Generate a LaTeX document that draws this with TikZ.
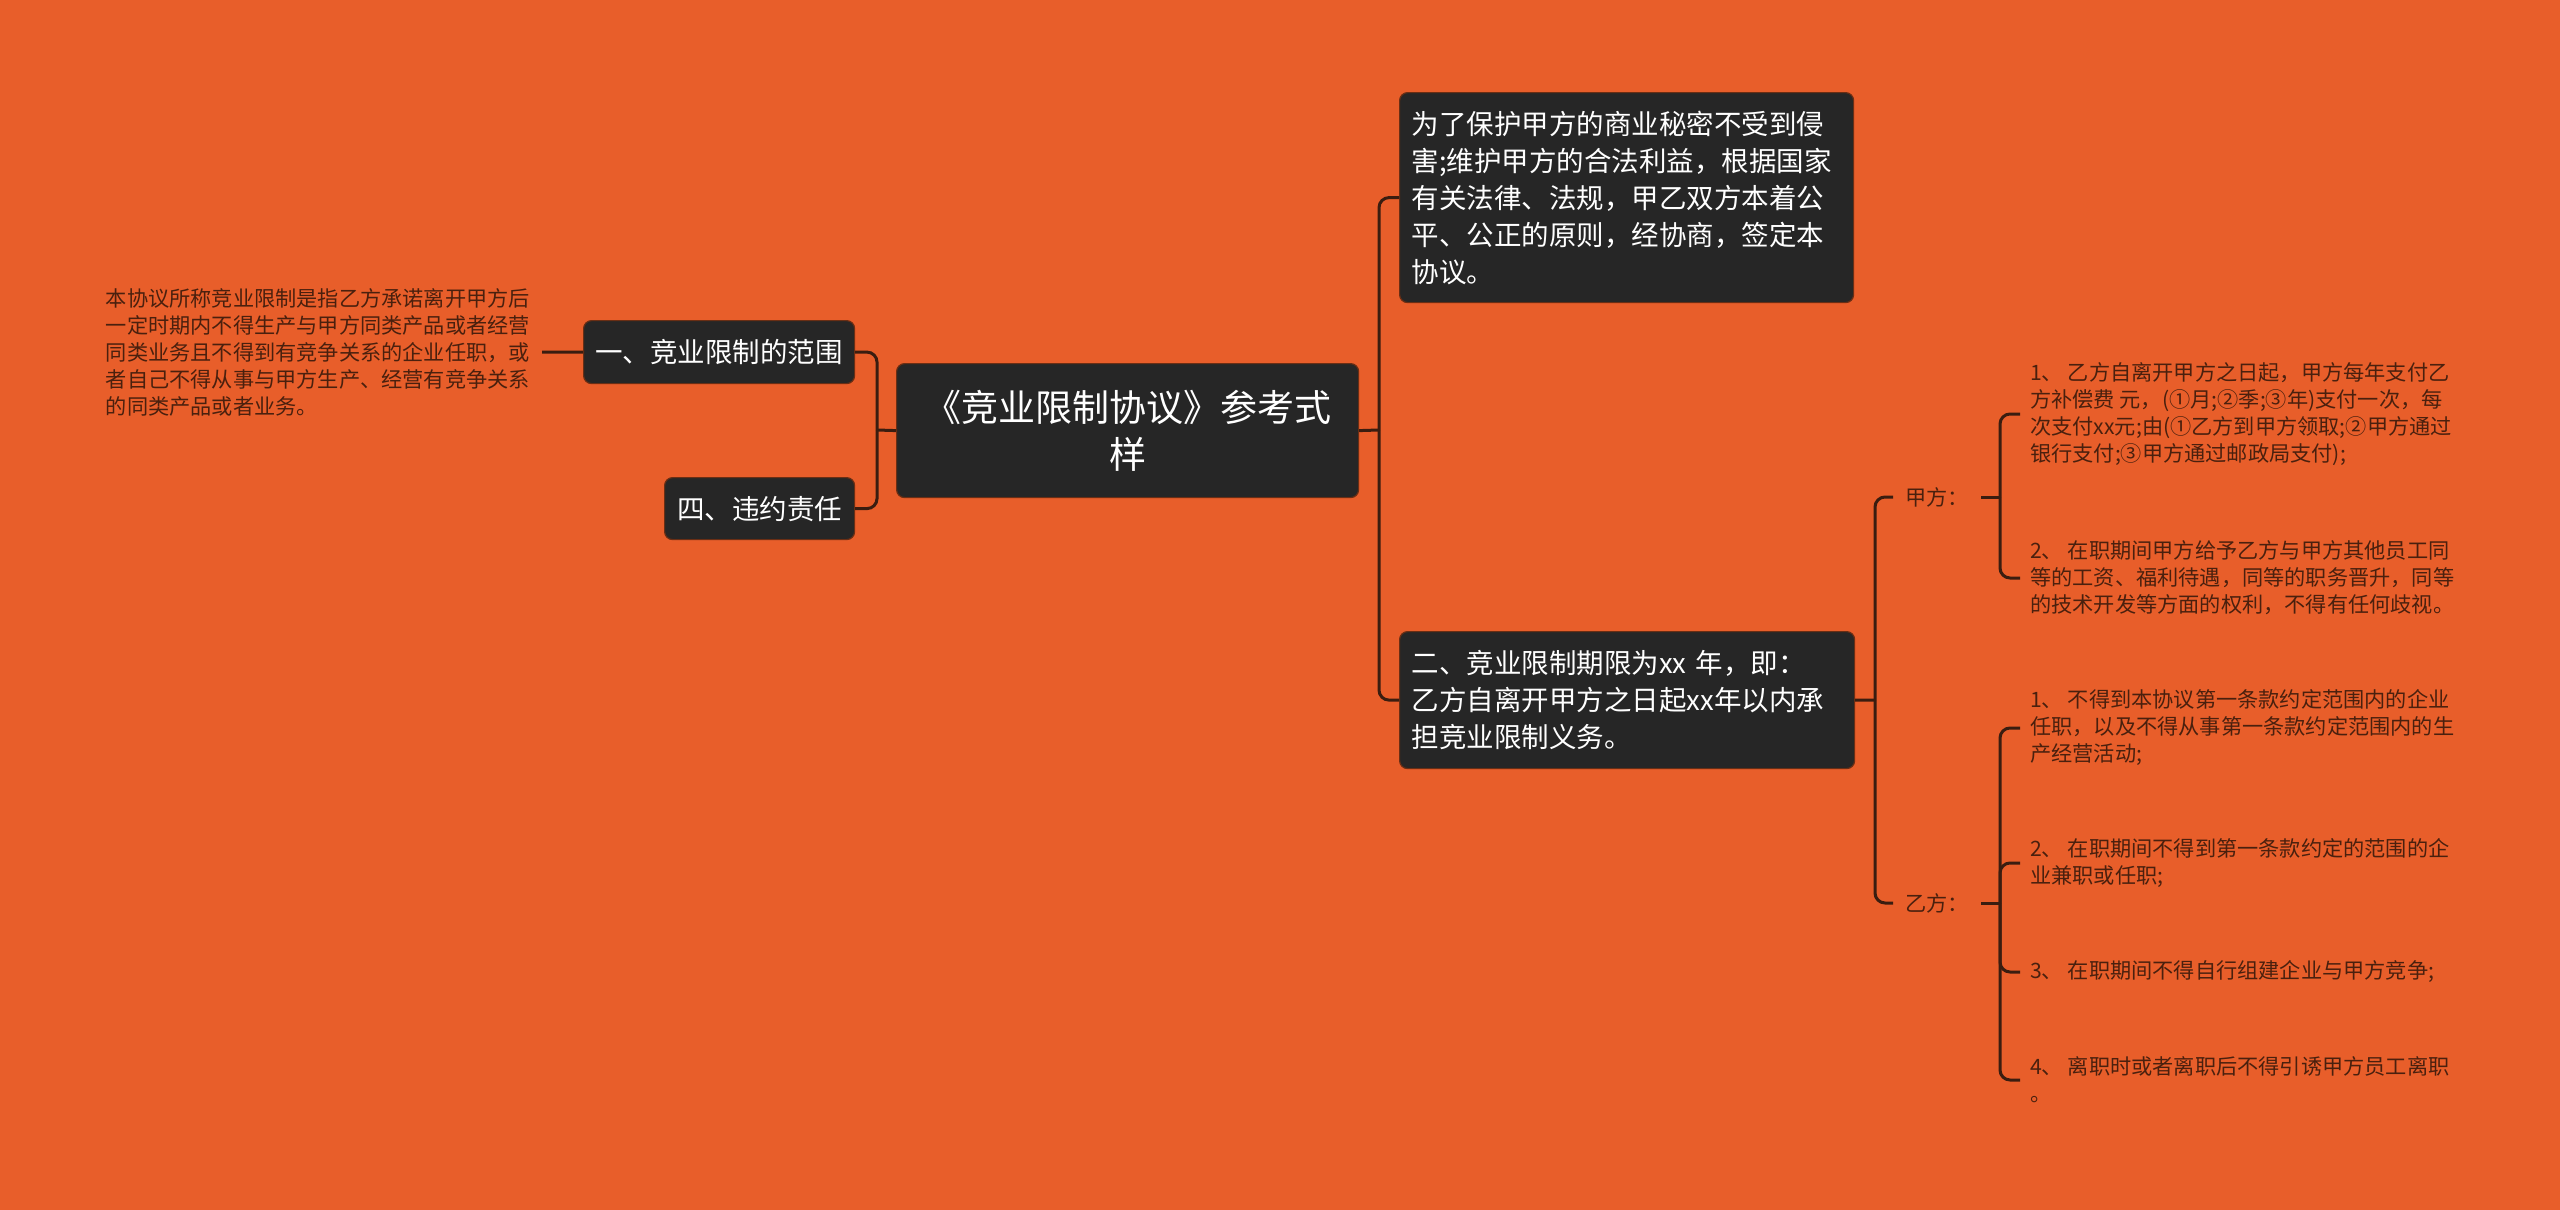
\documentclass[tikz,border=0pt]{standalone}
\usepackage{fontspec}
\setmainfont{Noto Sans CJK SC}
\usetikzlibrary{positioning}
\definecolor{bgc}{HTML}{E85E2A}
\definecolor{boxc}{HTML}{262626}
\definecolor{edgec}{HTML}{6A2E14}
\definecolor{linec}{HTML}{3A1D10}
\definecolor{txtc}{HTML}{4A200E}
\tikzset{
  darkbox/.style={draw=edgec, line width=1.2pt, fill=boxc, rounded corners=8pt, text=white, inner sep=0pt, align=left},
  bigfont/.style={font=\fontsize{27.5}{37}\selectfont},
  rootfont/.style={font=\fontsize{37}{47}\selectfont},
  smalltxt/.style={text=txtc, font=\fontsize{21.2}{27}\selectfont, align=left, inner sep=0pt},
  conn/.style={draw=linec, line width=3pt, rounded corners=10pt},
}
\begin{document}
\begin{tikzpicture}[x=1pt,y=-1pt]
\fill[bgc] (0,0) rectangle (2560,1210);
\useasboundingbox (0,0) rectangle (2560,1210);

% root
\node[darkbox, rootfont, align=center, minimum width=462, minimum height=134, anchor=north west] (root) at (896,363) {《竞业限制协议》参考式\\样};

% right top box
\node[darkbox, bigfont, minimum width=454, minimum height=210, anchor=north west, text width=430, inner xsep=12] (top) at (1399,92)
{为了保护甲方的商业秘密不受到侵\\害;维护甲方的合法利益，根据国家\\有关法律、法规，甲乙双方本着公\\平、公正的原则，经协商，签定本\\协议。};

% right box 2
\node[darkbox, bigfont, minimum width=455, minimum height=137, anchor=north west, text width=431, inner xsep=12] (two) at (1399,631)
{二、竞业限制期限为xx 年，即：\\乙方自离开甲方之日起xx年以内承\\担竞业限制义务。};

% left boxes
\node[darkbox, bigfont, align=center, minimum width=271, minimum height=63, anchor=north west] (one) at (583,320) {一、竞业限制的范围};
\node[darkbox, bigfont, align=center, minimum width=190, minimum height=62, anchor=north west] (four) at (664,477) {四、违约责任};

% left text
\node[smalltxt, anchor=east, inner xsep=12pt] (ltxt) at (542,352)
{本协议所称竞业限制是指乙方承诺离开甲方后\\一定时期内不得生产与甲方同类产品或者经营\\同类业务且不得到有竞争关系的企业任职，或\\者自己不得从事与甲方生产、经营有竞争关系\\的同类产品或者业务。};

% labels
\node[smalltxt, anchor=west, inner xsep=12pt, inner ysep=2pt] (jia) at (1893,497) {甲方：};
\node[smalltxt, anchor=west, inner xsep=12pt, inner ysep=2pt] (yi) at (1893,903) {乙方：};

% items
\node[smalltxt, anchor=west, inner xsep=10pt] (j1) at (2020,414)
{1、 乙方自离开甲方之日起，甲方每年支付乙\\方补偿费 元，(①月;②季;③年)支付一次，每\\次支付xx元;由(①乙方到甲方领取;②甲方通过\\银行支付;③甲方通过邮政局支付);};
\node[smalltxt, anchor=west, inner xsep=10pt] (j2) at (2020,578)
{2、 在职期间甲方给予乙方与甲方其他员工同\\等的工资、福利待遇，同等的职务晋升，同等\\的技术开发等方面的权利，不得有任何歧视。};
\node[smalltxt, anchor=west, inner xsep=10pt] (y1) at (2020,728)
{1、 不得到本协议第一条款约定范围内的企业\\任职，以及不得从事第一条款约定范围内的生\\产经营活动;};
\node[smalltxt, anchor=west, inner xsep=10pt] (y2) at (2020,863)
{2、 在职期间不得到第一条款约定的范围的企\\业兼职或任职;};
\node[smalltxt, anchor=west, inner xsep=10pt] (y3) at (2020,972)
{3、 在职期间不得自行组建企业与甲方竞争;};
\node[smalltxt, anchor=west, inner xsep=10pt] (y4) at (2020,1080)
{4、 离职时或者离职后不得引诱甲方员工离职\\。};

% junction coordinates
\coordinate (JR) at (1379,430);
\coordinate (JL) at (877,430);
\coordinate (J2) at (1875,700);
\coordinate (JJ) at (2000,497);
\coordinate (JY) at (2000,903);

% connectors
\draw[conn] (root.east) -- (JR);
\draw[conn] (JR) |- (top.west);
\draw[conn] (JR) |- (two.west);
\draw[conn] (root.west) -- (JL);
\draw[conn] (JL) |- (one.east);
\draw[conn] (JL) |- (four.east);
\draw[conn] (one.west) -- (ltxt.east);
\draw[conn] (two.east) -- (J2);
\draw[conn] (J2) |- (jia.west);
\draw[conn] (J2) |- (yi.west);
\draw[conn] (jia.east) -- (JJ);
\draw[conn] (JJ) |- (j1.west);
\draw[conn] (JJ) |- (j2.west);
\draw[conn] (yi.east) -- (JY);
\draw[conn] (JY) |- (y1.west);
\draw[conn] (JY) |- (y2.west);
\draw[conn] (JY) |- (y3.west);
\draw[conn] (JY) |- (y4.west);
\end{tikzpicture}
\end{document}
